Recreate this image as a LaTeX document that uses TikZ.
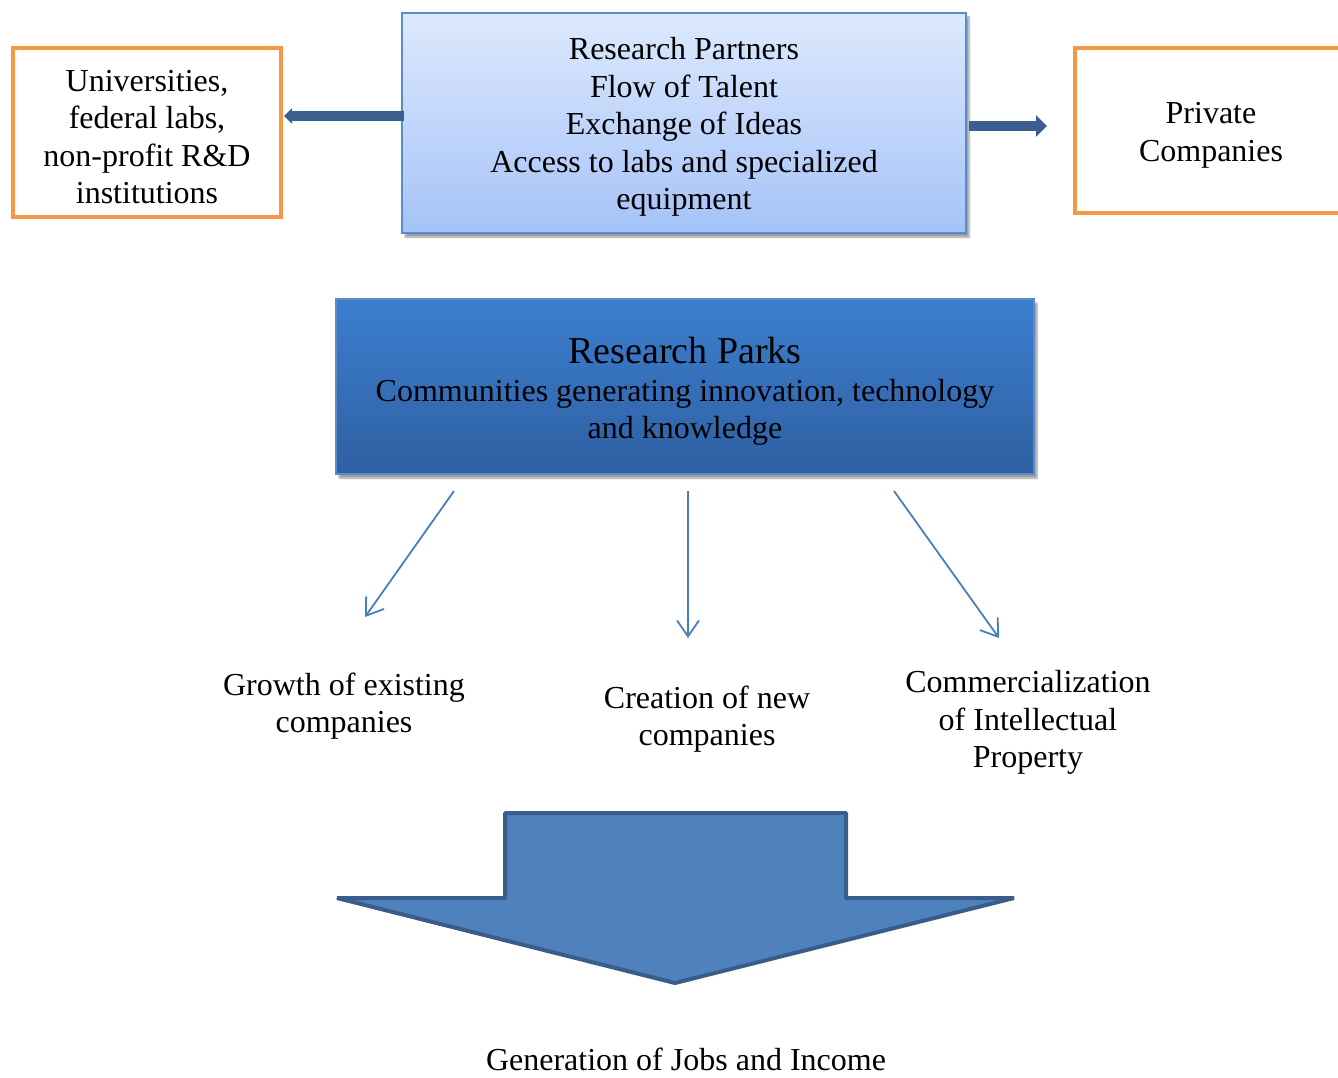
\documentclass[tikz,border=0pt]{standalone}
\usepackage{fontspec}
\setmainfont{Liberation Serif}
\usetikzlibrary{arrows.meta,shadows.blur}
\definecolor{orangeb}{HTML}{F79646}
\definecolor{darkblue}{HTML}{3A5F8F}
\definecolor{thinblue}{HTML}{4A7EBB}
\definecolor{lighttop}{HTML}{DDE9FD}
\definecolor{lightbot}{HTML}{A5C3F8}
\definecolor{boxline}{HTML}{5B8BC9}
\definecolor{parktop}{HTML}{3C7ECF}
\definecolor{parkbot}{HTML}{2F60A2}
\definecolor{arrowfill}{HTML}{4F81BD}
\definecolor{arrowline}{HTML}{385D8A}
\tikzset{
  txt/.style={font=\fontsize{32}{37.5}\selectfont, align=center, text=black},
  orangebox/.style={draw=orangeb, line width=4pt, fill=white, inner sep=0pt},
  shadowed/.style={blur shadow={shadow xshift=3pt, shadow yshift=-4pt, shadow blur steps=6, shadow opacity=40}},
  thickarrow/.style={draw=darkblue, line width=10pt},
  thinarrow/.style={draw=thinblue, line width=1.8pt, -{Straight Barb[length=16pt,width=22pt,line width=1.8pt]}},
}
\begin{document}
\begin{tikzpicture}[x=1pt,y=-1pt]
\useasboundingbox (0,0) rectangle (1338,1078);
\clip (0,0) rectangle (1338,1078);

% top center box
\node[shadowed, draw=boxline, line width=1.5pt, top color=lighttop, bottom color=lightbot,
      minimum width=564pt, minimum height=220pt, inner sep=0pt] (partners) at (684,123) {};
\node[txt, yshift=-4pt] (partnerstxt) at (partners.center)
  {Research Partners\\Flow of Talent\\Exchange of Ideas\\Access to labs and specialized\\equipment};

% left orange box
\node[orangebox, minimum width=268pt, minimum height=169pt] (univ) at (147,132.5) {};
\node[txt, yshift=-4.5pt] (univtxt) at (univ.center)
  {Universities,\\federal labs,\\non-profit R\&D\\institutions};

% right orange box (clipped)
\node[orangebox, minimum width=272pt, minimum height=165pt] (private) at (1211,130.5) {};
\node[txt, yshift=-5pt] (privatetxt) at (private.center) {Private\\Companies};

% thick arrows
\coordinate (la) at (404,116);
\coordinate (lb) at (284,116);
\draw[thickarrow, -{Triangle[length=8pt,width=15pt]}] (la) -- (lb);
\coordinate (ra) at (969,126);
\coordinate (rb) at (1047,126);
\draw[thickarrow, -{Triangle[length=11pt,width=21pt]}] (ra) -- (rb);

% research parks box
\node[shadowed, draw=boxline, line width=1.5pt, top color=parktop, bottom color=parkbot,
      minimum width=698pt, minimum height=175pt, inner sep=0pt] (parks) at (685,386.5) {};
\node[txt, yshift=-5pt] (parkstxt) at (parks.center)
  {{\fontsize{38}{44}\selectfont Research Parks}\\Communities generating innovation, technology\\and knowledge};

% outcome labels
\node[txt] (growth) at (344,706) {Growth of existing\\companies};
\node[txt] (creation) at (707,719) {Creation of new\\companies};
\node[txt] (commerc) at (1028,722.5) {Commercialization\\of Intellectual\\Property};

% thin arrows
\coordinate (s1) at (454,491);
\coordinate (e1) at (365,617);
\coordinate (s2) at (688,491);
\coordinate (e2) at (688,638);
\coordinate (s3) at (894,491);
\coordinate (e3) at (999,638);
\draw[thinarrow] (s1) -- (e1);
\draw[thinarrow] (s2) -- (e2);
\draw[thinarrow] (s3) -- (e3);

% big block arrow
\draw[fill=arrowfill, draw=arrowline, line width=4pt, line join=bevel]
  (505,813) -- (846,813) -- (846,898) -- (1014,898) -- (675,983) -- (337,898) -- (505,898) -- cycle;

% bottom label
\node[txt, inner sep=0pt] (jobs) at (686,1059) {Generation of Jobs and Income};
\end{tikzpicture}
\end{document}
